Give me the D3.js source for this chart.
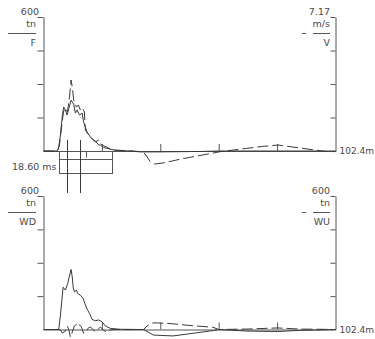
<!DOCTYPE html>
<html>
<head>
<meta charset="utf-8">
<script src="https://cdn.jsdelivr.net/npm/d3@7"></script>
<style>
    body { margin: 0; background: #fff; }
    svg { display: block; }
    text { font-family: "DejaVu Sans", Verdana, sans-serif; font-size: 9.5px; fill: #4a4a4a; }
    text.range { font-size: 9px; }
</style>
</head>
<body>
<svg id="chart" width="375" height="339"></svg>
<script>
// time axis (ms) and scale tops
const timeMax = 102.4;
const forceMax = 600;
const velocityMax = 7.17;
const timeTicks = [20.48, 40.96, 61.44, 81.92];
const forceTicks = [150, 300, 450, 600];
const velocityTicks = [1.7925, 3.585, 5.3775, 7.17];

// F (tn), solid
const timeF  = [0, 4.79, 5.24, 5.94, 6.64, 7.09, 7.69, 8.28, 8.91, 9.68, 10.13, 10.59, 11.18, 11.78, 12.23, 12.69, 13.53, 14.08, 14.68, 15.27, 15.73, 16.43, 17.58, 18.17, 19.33, 19.92, 20.4, 21.07, 22.02, 23.42, 25.16, 27.96, 30.4, 33.9, 40.9, 54.9, 62, 102.4];
const forceF = [0, 0, 9, 72, 161, 197, 184, 161, 192, 228, 219, 210, 170, 184, 170, 161, 170, 130, 107, 85, 76, 63, 49, 45, 27, 27, 22, 15, 13, 8, 4, 1, 0, -4, -4, -2, 0, 0];

// V (m/s), dashed
const timeV     = [0, 4.89, 5.59, 6.29, 6.99, 7.69, 8.39, 9.09, 9.68, 10.13, 10.59, 11.53, 12.23, 12.93, 13.63, 14.33, 14.68, 15.38, 16.43, 17.47, 18.17, 19.33, 20.52, 22.26, 24.01, 29.25, 33.9, 35.3, 36.35, 37.4, 39.14, 42.64, 47.88, 54.87, 61.86, 71.19, 76.5, 82.24, 90.97, 99.15, 102.4];
const velocityV = [0, 0, 0.32, 1.23, 2.09, 2.30, 2.09, 2.84, 3.80, 3.37, 2.73, 2.35, 2.46, 2.19, 2.30, 2.09, 1.12, 0.96, 0.75, 0.59, 0.48, 0.59, 0.32, 0.20, 0.05, 0.02, -0.03, -0.11, -0.32, -0.57, -0.70, -0.62, -0.44, -0.24, -0.04, 0.14, 0.24, 0.32, 0.14, -0.03, -0.03];

// WD (tn), solid
const timeWD   = [0, 5.35, 5.94, 6.88, 7.69, 8.49, 9.09, 9.68, 10.13, 10.38, 10.83, 11.53, 11.99, 12.93, 13.87, 14.68, 15.48, 16.43, 17.02, 18.17, 19.33, 20.52, 21.67, 23.42, 26.91, 33.9, 35.05, 38.55, 45.43, 59.41, 61.51, 71.3, 82.1, 89.8, 102.4];
const waveDown = [0, 0, 65, 190, 177, 207, 240, 270, 231, 192, 169, 177, 162, 154, 140, 110, 87, 65, 46, 39, 43, 35, 16, 5, 1, 0, 0, -25, -29, -5, 0, -7, -9, -4, 0];

// WU (tn), dashed
const timeWU = [0, 5.35, 5.94, 6.64, 7.69, 8.39, 8.91, 9.44, 10.13, 10.83, 11.53, 12.06, 12.58, 13.28, 14.08, 15.03, 15.73, 16.43, 17.12, 18.17, 19.22, 19.92, 20.97, 22.02, 23.42, 25.16, 35.05, 36.35, 38.55, 43.23, 51.37, 59.41, 61.51, 71.3, 82.1, 89.8, 102.4];
const waveUp = [0, 0, -2, -16, -7, 16, -2, -34, -11, 16, 22, 13, 22, 11, -17, -7, 7, 11, 4, -11, 2, 11, -2, -11, -2, 0, 0, 16, 30, 28, 18, 10, 0, 2, 7, 2, 0];

// marker window and cursors (ms)
const cursorTimes = [8.3, 12.7];
const windowStart = 5.5;
const windowLength = 18.6;

const svg = d3.select("#chart");
const ink = "#3a3a3a";
const x = d3.scaleLinear().domain([0, timeMax]).range([43.5, 335.5]);

function drawPanel(top, bottom, left, right) {
    const yLeft = d3.scaleLinear().domain([0, forceMax]).range([bottom, top]);
    const yRight = d3.scaleLinear().domain([0, right.max]).range([bottom, top]);
    const g = svg.append("g");

    g.append("g")
        .attr("transform", "translate(" + x.range()[0] + ",0)")
        .style("color", "#555")
        .call(d3.axisLeft(yLeft).tickValues(forceTicks).tickSize(6).tickSizeOuter(0).tickFormat(""));
    g.append("g")
        .attr("transform", "translate(" + x.range()[1] + ",0)")
        .style("color", "#555")
        .call(d3.axisLeft(yRight).tickValues(right.ticks).tickSize(5).tickSizeOuter(0).tickFormat(""));
    g.append("g")
        .attr("transform", "translate(0," + bottom + ")")
        .style("color", "#555")
        .call(d3.axisTop(x).tickValues(timeTicks).tickSize(7).tickSizeOuter(0).tickFormat(""));
    g.selectAll(".domain, .tick line").attr("stroke-width", 1);

    // left header
    g.append("text").attr("x", 39).attr("y", top - 2).attr("text-anchor", "end").text(forceMax);
    g.append("text").attr("x", 36).attr("y", top + 10).attr("text-anchor", "end").text("tn");
    g.append("line").attr("x1", 8).attr("x2", 36).attr("y1", top + 16.5).attr("y2", top + 16.5).attr("stroke", "#555");
    g.append("text").attr("x", 36).attr("y", top + 29).attr("text-anchor", "end").text(left.name);

    // right header
    g.append("text").attr("x", 330).attr("y", top - 2).attr("text-anchor", "end").text(right.label);
    g.append("text").attr("x", 330).attr("y", top + 10).attr("text-anchor", "end").text(right.unit);
    g.append("line").attr("x1", 313).attr("x2", 330).attr("y1", top + 16.5).attr("y2", top + 16.5).attr("stroke", "#555");
    g.append("line").attr("x1", 302).attr("x2", 306).attr("y1", top + 16.5).attr("y2", top + 16.5).attr("stroke", "#555");
    g.append("text").attr("x", 330).attr("y", top + 29).attr("text-anchor", "end").text(right.name);

    g.append("text").attr("class", "range").attr("x", 339.5).attr("y", bottom + 3).text(timeMax + "m");

    const lineLeft = d3.line().x(d => x(d[0])).y(d => yLeft(d[1]));
    const lineRight = d3.line().x(d => x(d[0])).y(d => yRight(d[1]));
    g.append("path")
        .attr("d", lineRight(d3.zip(right.time, right.values)))
        .attr("fill", "none").attr("stroke", ink).attr("stroke-width", 1)
        .attr("stroke-dasharray", "11,4");
    g.append("path")
        .attr("d", lineLeft(d3.zip(left.time, left.values)))
        .attr("fill", "none").attr("stroke", ink).attr("stroke-width", 1);
    return g;
}

const topPanel = drawPanel(17, 151,
    {name: "F", time: timeF, values: forceF},
    {name: "V", unit: "m/s", label: velocityMax, max: velocityMax, ticks: velocityTicks, time: timeV, values: velocityV});
drawPanel(196, 329.5,
    {name: "WD", time: timeWD, values: waveDown},
    {name: "WU", unit: "tn", label: forceMax, max: forceMax, ticks: forceTicks, time: timeWU, values: waveUp});

// marker window under the top trace
const x0 = Math.round(x(windowStart)) + 0.5, x1 = Math.round(x(windowStart + windowLength)) + 0.5;
const xm = Math.round(x(windowStart + windowLength / 2)) + 0.5;
topPanel.append("rect")
    .attr("x", x0).attr("y", 159.5).attr("width", x1 - x0).attr("height", 14)
    .attr("fill", "none").attr("stroke", "#555");
topPanel.selectAll("line.edge")
    .data([x0, x1])
    .enter().append("line").attr("class", "edge")
    .attr("x1", d => d).attr("x2", d => d).attr("y1", 151).attr("y2", 159.5)
    .attr("stroke", "#555");
topPanel.append("line")
    .attr("x1", xm).attr("x2", xm).attr("y1", 152).attr("y2", 157.5).attr("stroke", "#555");
topPanel.append("text")
    .attr("x", x0 - 3).attr("y", 169.5).attr("text-anchor", "end")
    .text(windowLength.toFixed(2) + " ms");

svg.selectAll("line.cursor")
    .data(cursorTimes)
    .enter().append("line").attr("class", "cursor")
    .attr("x1", d => Math.round(x(d)) + 0.5).attr("x2", d => Math.round(x(d)) + 0.5)
    .attr("y1", 140).attr("y2", 193)
    .attr("stroke", ink);
</script>
</body>
</html>
